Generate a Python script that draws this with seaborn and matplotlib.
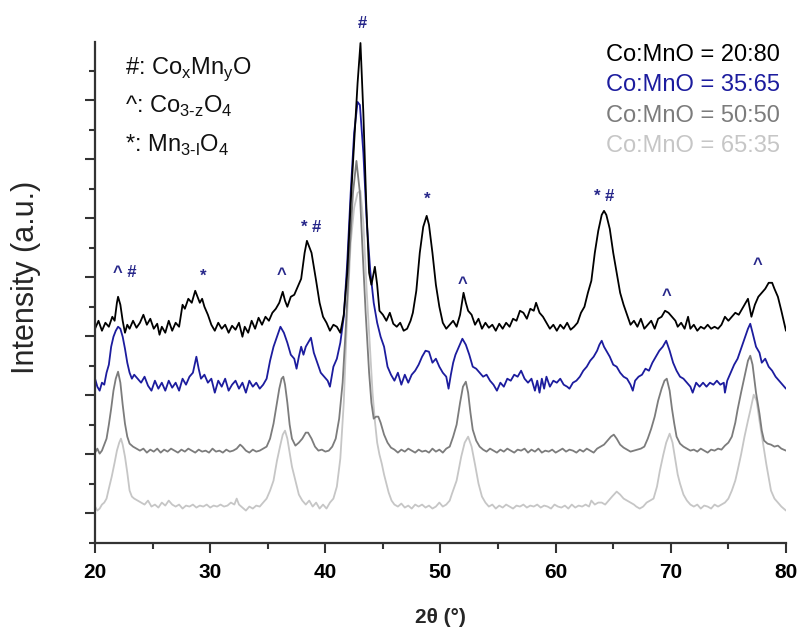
import numpy as np
import pandas as pd
import seaborn as sns
import matplotlib.pyplot as plt
from matplotlib.ticker import MultipleLocator, FixedLocator

# ── Difractogramas (2θ en grados, intensidad en u.a. con desplazamiento vertical) ──
xrd_2080 = [
    (20.0, 214), (20.3, 222), (20.6, 212), (20.9, 220), (21.2, 216), (21.5, 226), (21.7, 222),
    (21.9, 240), (22.0, 246), (22.2, 238), (22.4, 222), (22.6, 210), (22.8, 218), (23.0, 214),
    (23.3, 222), (23.6, 215), (23.9, 220), (24.2, 228), (24.5, 218), (24.8, 224), (25.1, 214),
    (25.4, 219), (25.6, 208), (25.8, 216), (26.1, 210), (26.4, 222), (26.7, 212), (27.0, 220),
    (27.3, 216), (27.6, 238), (27.8, 234), (28.1, 244), (28.4, 240), (28.7, 252), (28.9, 246),
    (29.1, 240), (29.3, 244), (29.5, 236), (29.8, 228), (30.1, 218), (30.4, 212), (30.7, 220),
    (31.0, 214), (31.3, 218), (31.6, 210), (31.9, 217), (32.2, 213), (32.5, 220), (32.8, 206),
    (33.0, 216), (33.3, 210), (33.6, 222), (33.9, 214), (34.2, 225), (34.5, 218), (34.8, 226),
    (35.1, 222), (35.4, 230), (35.7, 234), (36.0, 240), (36.3, 251), (36.5, 242), (36.7, 236),
    (37.0, 246), (37.3, 248), (37.6, 256), (37.9, 264), (38.2, 290), (38.4, 302), (38.6, 296),
    (38.8, 290), (39.0, 276), (39.2, 262), (39.5, 240), (39.8, 226), (40.1, 220), (40.4, 212),
    (40.7, 218), (41.0, 216), (41.3, 210), (41.6, 228), (41.9, 270), (42.2, 340), (42.5, 400),
    (42.8, 460), (43.05, 500), (43.3, 430), (43.55, 340), (43.8, 270), (44.0, 258), (44.3, 276),
    (44.5, 258), (44.7, 232), (45.0, 228), (45.3, 222), (45.6, 230), (45.9, 219), (46.2, 216),
    (46.5, 220), (46.8, 212), (47.1, 214), (47.4, 222), (47.6, 230), (47.9, 252), (48.2, 290),
    (48.5, 316), (48.8, 327), (49.0, 318), (49.3, 290), (49.6, 258), (49.9, 236), (50.2, 220),
    (50.5, 214), (50.8, 218), (51.1, 222), (51.4, 216), (51.7, 228), (52.0, 250), (52.2, 240),
    (52.4, 232), (52.7, 228), (53.0, 218), (53.3, 224), (53.6, 214), (53.9, 220), (54.2, 215),
    (54.5, 218), (54.8, 212), (55.1, 219), (55.4, 214), (55.7, 220), (56.0, 216), (56.3, 224),
    (56.6, 222), (56.9, 232), (57.2, 230), (57.5, 224), (57.8, 234), (58.1, 232), (58.3, 240),
    (58.6, 230), (58.9, 226), (59.2, 220), (59.5, 214), (59.8, 218), (60.1, 212), (60.4, 218),
    (60.7, 214), (61.0, 220), (61.3, 213), (61.6, 216), (61.9, 220), (62.2, 230), (62.5, 236),
    (62.8, 250), (63.1, 262), (63.4, 290), (63.7, 312), (64.0, 328), (64.2, 332), (64.4, 328),
    (64.7, 314), (65.0, 290), (65.3, 270), (65.6, 250), (65.9, 238), (66.2, 228), (66.5, 218),
    (66.8, 222), (67.1, 216), (67.4, 224), (67.7, 214), (68.0, 218), (68.3, 222), (68.6, 214),
    (68.9, 224), (69.2, 226), (69.5, 232), (69.8, 230), (70.1, 226), (70.4, 222), (70.6, 216),
    (70.9, 220), (71.2, 214), (71.5, 226), (71.7, 214), (72.0, 218), (72.3, 212), (72.6, 216),
    (72.9, 214), (73.2, 218), (73.5, 214), (73.8, 216), (74.1, 214), (74.4, 218), (74.7, 226),
    (75.0, 222), (75.3, 226), (75.6, 230), (75.9, 228), (76.2, 234), (76.4, 238), (76.7, 244),
    (77.0, 226), (77.3, 238), (77.6, 246), (77.9, 250), (78.2, 254), (78.5, 260), (78.8, 260),
    (79.0, 254), (79.3, 246), (79.6, 232), (79.8, 222), (80.0, 212),
]

xrd_3565 = [
    (20.0, 164), (20.2, 156), (20.4, 152), (20.6, 160), (20.8, 158), (21.0, 170), (21.2, 178),
    (21.4, 196), (21.6, 206), (21.8, 212), (22.0, 216), (22.2, 214), (22.4, 206), (22.6, 194),
    (22.8, 180), (23.0, 170), (23.2, 164), (23.4, 168), (23.7, 164), (24.0, 160), (24.3, 166),
    (24.6, 157), (24.9, 152), (25.2, 162), (25.5, 154), (25.8, 160), (26.1, 152), (26.4, 162),
    (26.7, 155), (27.0, 160), (27.3, 152), (27.6, 164), (27.9, 158), (28.2, 166), (28.5, 170),
    (28.8, 186), (29.0, 174), (29.2, 164), (29.5, 168), (29.8, 160), (30.1, 164), (30.4, 150),
    (30.7, 162), (31.0, 156), (31.3, 164), (31.6, 152), (31.9, 158), (32.2, 162), (32.5, 154),
    (32.8, 160), (33.1, 150), (33.4, 162), (33.7, 156), (34.0, 160), (34.3, 154), (34.6, 158),
    (34.9, 164), (35.2, 182), (35.5, 196), (35.8, 206), (36.1, 216), (36.4, 210), (36.7, 200),
    (37.0, 188), (37.3, 184), (37.5, 174), (37.7, 186), (37.9, 196), (38.1, 188), (38.3, 196),
    (38.5, 200), (38.75, 205), (39.0, 190), (39.3, 180), (39.6, 170), (39.9, 166), (40.2, 162),
    (40.4, 156), (40.7, 176), (41.0, 184), (41.3, 200), (41.6, 226), (41.9, 280), (42.2, 350),
    (42.5, 410), (42.8, 441), (43.0, 438), (43.3, 390), (43.6, 320), (43.9, 272), (44.2, 240),
    (44.5, 220), (44.8, 206), (45.1, 196), (45.4, 176), (45.7, 168), (46.0, 162), (46.3, 170),
    (46.6, 158), (46.9, 168), (47.2, 160), (47.5, 168), (47.8, 172), (48.1, 178), (48.4, 186),
    (48.7, 192), (49.0, 191), (49.3, 180), (49.6, 184), (49.9, 176), (50.2, 170), (50.5, 166),
    (50.7, 154), (50.9, 168), (51.1, 180), (51.3, 188), (51.6, 196), (51.9, 204), (52.2, 198),
    (52.5, 188), (52.8, 176), (53.1, 174), (53.4, 170), (53.7, 166), (54.0, 168), (54.3, 162),
    (54.6, 158), (54.9, 152), (55.2, 160), (55.5, 156), (55.8, 164), (56.1, 162), (56.4, 168),
    (56.7, 166), (57.0, 172), (57.3, 164), (57.6, 160), (57.9, 164), (58.2, 152), (58.4, 162),
    (58.6, 150), (58.8, 164), (59.0, 154), (59.2, 166), (59.5, 156), (59.8, 162), (60.1, 160),
    (60.4, 164), (60.7, 158), (61.0, 156), (61.2, 154), (61.5, 160), (61.8, 162), (62.1, 166),
    (62.4, 172), (62.7, 176), (63.0, 182), (63.3, 186), (63.6, 192), (63.8, 198), (64.0, 202),
    (64.2, 196), (64.4, 192), (64.7, 186), (65.0, 178), (65.3, 176), (65.6, 170), (65.9, 166),
    (66.2, 164), (66.5, 158), (66.7, 152), (66.9, 162), (67.2, 166), (67.5, 168), (67.8, 174),
    (68.1, 172), (68.4, 180), (68.7, 186), (69.0, 192), (69.3, 196), (69.6, 202), (69.9, 192),
    (70.2, 180), (70.5, 172), (70.8, 166), (71.1, 164), (71.4, 160), (71.7, 156), (71.9, 150),
    (72.2, 160), (72.5, 156), (72.8, 160), (73.1, 156), (73.4, 160), (73.7, 158), (74.0, 162),
    (74.3, 158), (74.6, 160), (74.7, 150), (74.9, 162), (75.2, 170), (75.5, 178), (75.8, 184),
    (76.1, 194), (76.4, 204), (76.7, 214), (76.9, 219), (77.1, 210), (77.4, 196), (77.7, 190),
    (77.9, 180), (78.2, 184), (78.5, 176), (78.8, 172), (79.1, 166), (79.4, 162), (79.7, 158),
    (80.0, 154),
]

xrd_5050 = [
    (20.0, 90), (20.2, 94), (20.4, 89), (20.6, 92), (20.8, 98), (21.0, 104), (21.2, 118),
    (21.4, 134), (21.6, 152), (21.8, 164), (22.0, 171), (22.2, 160), (22.4, 138), (22.6, 119),
    (22.8, 106), (23.0, 99), (23.3, 96), (23.6, 94), (23.9, 92), (24.2, 94), (24.5, 90),
    (24.8, 93), (25.1, 91), (25.4, 94), (25.7, 90), (26.0, 93), (26.3, 91), (26.6, 94),
    (26.9, 92), (27.2, 90), (27.5, 93), (27.8, 91), (28.1, 94), (28.4, 92), (28.7, 90),
    (29.0, 93), (29.3, 91), (29.6, 92), (29.9, 90), (30.2, 94), (30.5, 91), (30.8, 92),
    (31.1, 90), (31.4, 93), (31.7, 91), (32.0, 92), (32.3, 94), (32.6, 98), (32.8, 96),
    (33.1, 92), (33.4, 90), (33.7, 93), (34.0, 91), (34.3, 92), (34.6, 94), (34.9, 96),
    (35.2, 104), (35.5, 119), (35.8, 140), (36.0, 154), (36.2, 164), (36.35, 166), (36.5, 158),
    (36.7, 140), (36.9, 118), (37.1, 104), (37.4, 97), (37.7, 100), (38.0, 104), (38.3, 110),
    (38.5, 110), (38.8, 104), (39.1, 96), (39.4, 92), (39.7, 93), (40.0, 91), (40.3, 92),
    (40.6, 96), (40.9, 104), (41.2, 124), (41.5, 160), (41.8, 220), (42.1, 290), (42.4, 350),
    (42.7, 382), (43.0, 350), (43.2, 300), (43.5, 230), (43.8, 170), (44.0, 140), (44.2, 124),
    (44.4, 126), (44.6, 126), (44.8, 120), (45.1, 108), (45.4, 100), (45.7, 95), (46.0, 93),
    (46.3, 90), (46.6, 93), (46.9, 91), (47.2, 94), (47.5, 92), (47.8, 90), (48.1, 93),
    (48.4, 91), (48.7, 92), (49.0, 90), (49.3, 94), (49.6, 91), (49.9, 93), (50.2, 90),
    (50.5, 94), (50.8, 96), (51.1, 106), (51.4, 118), (51.7, 140), (51.95, 156), (52.2, 161),
    (52.4, 150), (52.6, 130), (52.8, 113), (53.1, 102), (53.4, 96), (53.7, 93), (54.0, 91),
    (54.3, 94), (54.6, 92), (54.9, 90), (55.2, 93), (55.5, 91), (55.8, 94), (56.1, 92),
    (56.4, 90), (56.7, 93), (57.0, 92), (57.3, 94), (57.6, 90), (57.9, 93), (58.2, 91),
    (58.5, 94), (58.8, 90), (59.1, 92), (59.4, 91), (59.7, 93), (60.0, 90), (60.3, 92),
    (60.6, 94), (60.9, 91), (61.2, 93), (61.5, 92), (61.8, 90), (62.1, 93), (62.4, 91),
    (62.7, 94), (63.0, 92), (63.3, 90), (63.6, 94), (63.9, 96), (64.2, 98), (64.5, 102),
    (64.8, 106), (65.05, 108), (65.3, 104), (65.6, 98), (65.9, 95), (66.2, 93), (66.5, 91),
    (66.8, 92), (67.1, 93), (67.4, 94), (67.7, 96), (68.0, 104), (68.3, 114), (68.6, 126),
    (68.9, 142), (69.2, 154), (69.45, 162), (69.65, 164), (69.9, 152), (70.1, 134), (70.3, 119),
    (70.5, 106), (70.8, 99), (71.1, 96), (71.4, 94), (71.7, 92), (72.0, 93), (72.3, 91),
    (72.6, 94), (72.9, 92), (73.2, 90), (73.5, 93), (73.8, 92), (74.1, 94), (74.4, 93),
    (74.7, 97), (75.0, 100), (75.3, 106), (75.6, 120), (75.8, 133), (76.1, 150), (76.4, 166),
    (76.7, 182), (76.9, 187), (77.1, 178), (77.4, 150), (77.7, 129), (77.9, 112), (78.1, 102),
    (78.4, 99), (78.7, 98), (79.0, 96), (79.3, 97), (79.6, 94), (80.0, 92),
]

xrd_6535 = [
    (20.0, 36), (20.2, 32), (20.4, 34), (20.6, 38), (20.8, 40), (21.0, 44), (21.2, 54),
    (21.45, 66), (21.7, 80), (21.9, 92), (22.1, 100), (22.25, 104), (22.4, 98), (22.6, 86),
    (22.8, 70), (23.0, 52), (23.2, 46), (23.4, 44), (23.7, 42), (24.0, 40), (24.3, 38),
    (24.6, 42), (24.9, 36), (25.2, 38), (25.5, 35), (25.8, 40), (26.1, 37), (26.4, 42),
    (26.7, 38), (27.0, 36), (27.3, 38), (27.6, 34), (27.9, 37), (28.2, 36), (28.5, 38),
    (28.8, 35), (29.1, 37), (29.4, 36), (29.7, 38), (30.0, 35), (30.3, 37), (30.6, 36),
    (30.9, 38), (31.2, 36), (31.5, 37), (31.8, 40), (32.1, 38), (32.3, 44), (32.5, 38),
    (32.8, 35), (33.1, 32), (33.4, 36), (33.7, 34), (34.0, 37), (34.3, 36), (34.6, 40),
    (34.9, 44), (35.2, 52), (35.5, 62), (35.8, 82), (36.1, 98), (36.3, 108), (36.5, 112),
    (36.7, 104), (36.9, 90), (37.1, 76), (37.4, 62), (37.7, 48), (38.0, 42), (38.3, 38),
    (38.6, 42), (38.9, 36), (39.2, 40), (39.5, 34), (39.8, 38), (40.1, 34), (40.4, 40),
    (40.7, 44), (41.0, 56), (41.3, 84), (41.6, 140), (41.9, 230), (42.2, 300), (42.5, 335),
    (42.8, 350), (43.05, 352), (43.3, 320), (43.6, 250), (43.9, 189), (44.1, 150), (44.3, 122),
    (44.5, 100), (44.7, 88), (44.9, 79), (45.1, 68), (45.3, 59), (45.5, 50), (45.75, 42),
    (46.0, 38), (46.3, 36), (46.6, 39), (46.9, 35), (47.2, 37), (47.5, 34), (47.8, 38),
    (48.1, 36), (48.4, 38), (48.7, 35), (49.0, 37), (49.3, 34), (49.6, 36), (49.9, 40),
    (50.2, 36), (50.5, 38), (50.8, 42), (51.0, 49), (51.4, 62), (51.8, 86), (52.1, 100),
    (52.4, 106), (52.7, 96), (53.0, 78), (53.3, 59), (53.6, 46), (53.9, 40), (54.2, 36),
    (54.5, 38), (54.8, 34), (55.1, 37), (55.4, 35), (55.7, 38), (56.0, 36), (56.3, 34),
    (56.6, 37), (56.9, 36), (57.2, 38), (57.5, 35), (57.8, 37), (58.1, 36), (58.4, 38),
    (58.7, 35), (59.0, 37), (59.3, 36), (59.6, 34), (59.9, 38), (60.2, 36), (60.5, 35),
    (60.8, 37), (61.1, 34), (61.4, 38), (61.7, 35), (62.0, 37), (62.3, 36), (62.6, 38),
    (62.9, 36), (63.1, 42), (63.4, 38), (63.7, 40), (64.0, 40), (64.3, 38), (64.6, 42),
    (64.9, 46), (65.3, 51), (65.6, 48), (65.9, 44), (66.2, 42), (66.5, 40), (66.8, 38),
    (67.0, 36), (67.3, 34), (67.6, 36), (67.9, 40), (68.2, 42), (68.5, 44), (68.8, 56),
    (69.05, 72), (69.35, 88), (69.6, 100), (69.9, 109), (70.15, 100), (70.4, 82), (70.6, 68),
    (70.8, 59), (71.1, 48), (71.4, 42), (71.7, 38), (72.0, 36), (72.3, 38), (72.6, 34),
    (72.9, 37), (73.2, 36), (73.5, 34), (73.8, 38), (74.1, 36), (74.4, 38), (74.7, 40),
    (75.0, 44), (75.3, 52), (75.6, 62), (75.8, 72), (76.1, 88), (76.4, 106), (76.7, 122),
    (76.9, 132), (77.2, 148), (77.45, 142), (77.7, 122), (78.0, 100), (78.3, 78), (78.7, 52),
    (79.0, 44), (79.3, 40), (79.6, 36), (80.0, 32),
]

muestras = ["Co:MnO = 20:80", "Co:MnO = 35:65", "Co:MnO = 50:50", "Co:MnO = 65:35"]
colores = ["#000000", "#1c1c9e", "#7c7c7c", "#c6c6c6"]

# marcas de fase sobre los picos: (2θ, altura, símbolo)
marcas = [
    (22.6, 270, "^ #"), (29.4, 267, "*"), (36.2, 268, "^"), (38.75, 315, "* #"),
    (43.2, 520, "#"), (48.8, 344, "*"), (51.95, 259, "^"), (64.2, 346, "* #"),
    (69.6, 247, "^"), (77.5, 278, "^"),
]
fases = [
    r"#: Co$_\mathregular{x}$Mn$_\mathregular{y}$O",
    "^: Co$_\\mathregular{3\u2010z}$O$_\\mathregular{4}$",
    "*: Mn$_\\mathregular{3\u2010l}$O$_\\mathregular{4}$",
]

sns.set_style("ticks")
plt.rcParams['font.family'] = ['Liberation Sans', 'DejaVu Sans']
plt.rcParams['mathtext.fontset'] = 'custom'
plt.rcParams['mathtext.rm'] = 'Liberation Sans'

EJE = "#333333"
NAVY = "#27278a"

fig = plt.figure(figsize=(8.02, 6.31), dpi=100)
ax = fig.add_axes([0.1185, 0.1402, 0.8615, 0.7932])

series = [xrd_2080, xrd_3565, xrd_5050, xrd_6535]
# se dibuja de abajo hacia arriba
for datos, nombre, col in reversed(list(zip(series, muestras, colores))):
    df = pd.DataFrame(datos, columns=["2theta", "I"])
    sns.lineplot(data=df, x="2theta", y="I", ax=ax, color=col, lw=1.3,
                 estimator=None, sort=False, legend=False)

ax.set_xlim(20, 80)
ax.set_ylim(0, 501)
ax.set_xlabel("")
ax.set_ylabel("")

ax.xaxis.set_major_locator(MultipleLocator(10))
ax.xaxis.set_minor_locator(MultipleLocator(5))
ax.yaxis.set_major_locator(FixedLocator(np.arange(29.5, 502, 59)))
ax.yaxis.set_minor_locator(FixedLocator(np.arange(0, 480, 59)))
ax.set_yticklabels([])
ax.tick_params(axis="both", which="major", direction="out", length=7, width=1.5,
               color=EJE, labelcolor="black")
ax.tick_params(axis="both", which="minor", direction="out", length=4, width=1.5, color=EJE)
ax.tick_params(axis="x", which="major", labelsize=15, pad=8)
for lab in ax.get_xticklabels():
    lab.set_fontweight("bold")

sns.despine(ax=ax)
for s in ["left", "bottom"]:
    ax.spines[s].set_linewidth(1.6)
    ax.spines[s].set_color(EJE)

for x, y, txt in marcas:
    ax.text(x, y, txt, color=NAVY, fontsize=12, fontweight="bold",
            ha="center", va="center", clip_on=False)

for i, txt in enumerate(fases):
    ax.text(0.043, [0.936, 0.858, 0.780][i], txt, transform=ax.transAxes,
            fontsize=17, color="#111111", ha="left", va="baseline")

for i, (nombre, col) in enumerate(zip(muestras, colores)):
    ax.text(0.991, [0.974, 0.914, 0.852, 0.792][i], nombre, transform=ax.transAxes,
            fontsize=17, color=col, ha="right", va="center")

fig.text(0.549, 0.022, "2θ (°)", fontsize=15, fontweight="bold", ha="center", va="center")
fig.text(0.033, 0.561, "Intensity (a.u.)", fontsize=22, rotation=90, ha="center", va="center")

plt.savefig("out.png", dpi=100, facecolor="white")
